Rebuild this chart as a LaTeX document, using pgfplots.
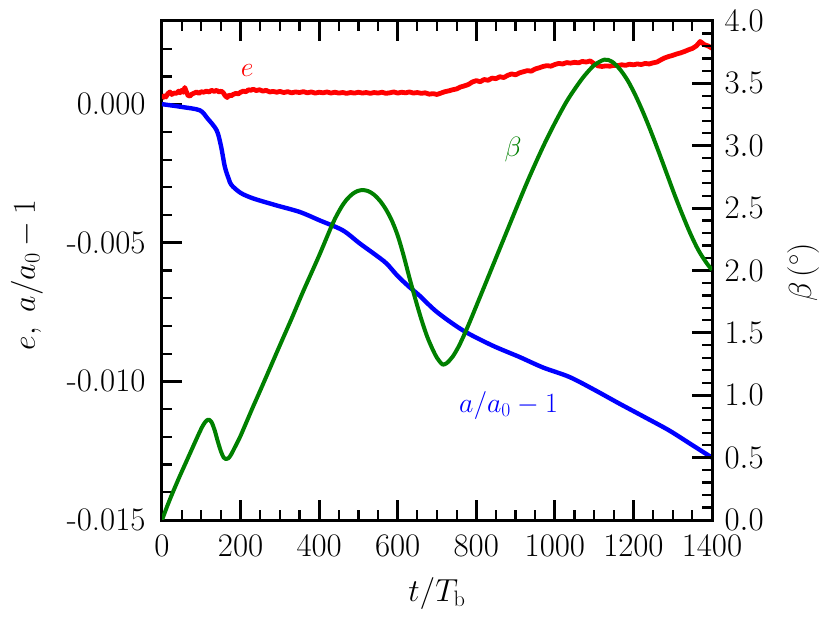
\RequirePackage{fix-cm}
\documentclass[border=0pt]{standalone}
\usepackage{pgfplots}
\pgfplotsset{compat=1.18}
\definecolor{mgreen}{RGB}{0,128,0}
\definecolor{mred}{RGB}{255,0,0}
\definecolor{mblue}{RGB}{0,0,255}

\pgfplotstableread{
t e
0 0.00020
5 0.00030
10 0.00026
15 0.00038
20 0.00044
25 0.00035
30 0.00040
37 0.00039
42 0.00047
46 0.00041
50 0.00050
54 0.00043
58 0.00060
62 0.00045
66 0.00032
71 0.00029
76 0.00036
82 0.00040
88 0.00044
94 0.00039
100 0.00045
106 0.00043
113 0.00047
120 0.00044
126 0.00050
133 0.00046
139 0.00050
145 0.00044
151 0.00047
156 0.00041
161 0.00030
166 0.00024
171 0.00033
176 0.00030
181 0.00035
188 0.00039
194 0.00037
200 0.00043
207 0.00047
214 0.00045
220 0.00052
226 0.00050
232 0.00054
240 0.00049
248 0.00052
257 0.00047
265 0.00050
274 0.00044
283 0.00046
292 0.00043
300 0.00046
310 0.00042
320 0.00045
330 0.00041
340 0.00044
350 0.00042
360 0.00045
370 0.00041
380 0.00044
390 0.00040
400 0.00043
410 0.00041
420 0.00044
430 0.00040
440 0.00043
450 0.00040
460 0.00042
470 0.00039
480 0.00042
490 0.00040
500 0.00043
510 0.00040
520 0.00042
530 0.00039
540 0.00042
550 0.00040
560 0.00043
570 0.00039
580 0.00041
590 0.00044
600 0.00040
610 0.00043
620 0.00041
630 0.00044
640 0.00040
650 0.00042
660 0.00039
670 0.00041
680 0.00036
690 0.00038
700 0.00035
710 0.00040
720 0.00045
730 0.00048
740 0.00052
750 0.00055
760 0.00062
770 0.00066
780 0.00071
790 0.00080
800 0.00085
810 0.00081
820 0.00089
830 0.00086
840 0.00094
850 0.00092
860 0.00099
870 0.00096
880 0.00104
890 0.00109
900 0.00106
910 0.00113
920 0.00117
930 0.00121
940 0.00119
950 0.00127
960 0.00131
970 0.00136
980 0.00139
990 0.00137
1000 0.00143
1010 0.00147
1020 0.00145
1030 0.00150
1040 0.00148
1050 0.00151
1060 0.00149
1070 0.00154
1080 0.00152
1090 0.00156
1100 0.00146
1110 0.00138
1120 0.00136
1130 0.00138
1140 0.00137
1150 0.00140
1160 0.00139
1170 0.00142
1180 0.00140
1190 0.00144
1200 0.00142
1210 0.00145
1220 0.00143
1230 0.00147
1240 0.00145
1250 0.00149
1260 0.00152
1270 0.00160
1280 0.00167
1290 0.00172
1300 0.00176
1310 0.00181
1320 0.00185
1330 0.00190
1340 0.00196
1350 0.00201
1360 0.00210
1365 0.00218
1370 0.00226
1375 0.00221
1380 0.00215
1390 0.00210
1400 0.00202
}\edata

\pgfplotstableread{
t a
0 0
50 -0.00010
96 -0.00022
115 -0.00050
139 -0.00094
150 -0.00150
160 -0.00226
170 -0.00270
177 -0.00292
200 -0.00320
232 -0.00340
291 -0.00365
351 -0.00389
401 -0.00419
460 -0.00455
503 -0.00502
540 -0.00540
571 -0.00574
600 -0.00620
630 -0.00660
655 -0.00690
700 -0.00750
766 -0.00816
840 -0.00870
910 -0.00912
970 -0.00950
1037 -0.00984
1100 -0.01030
1164 -0.01080
1230 -0.01130
1291 -0.01177
1350 -0.01230
1400 -0.01275
}\adata

\pgfplotstableread{
t b
0 0.00
15 0.125
30 0.24
45 0.35
60 0.455
75 0.56
90 0.665
102 0.745
110 0.785
118 0.805
126 0.785
134 0.72
142 0.63
150 0.55
157 0.50
163 0.488
169 0.495
176 0.525
185 0.58
200 0.675
230 0.895
258 1.095
300 1.40
330 1.615
359 1.83
400 2.12
435 2.38
455 2.50
470 2.568
485 2.614
498 2.637
511 2.645
525 2.636
540 2.607
555 2.558
570 2.49
585 2.40
600 2.28
615 2.12
630 1.94
645 1.77
660 1.61
675 1.47
690 1.36
700 1.30
710 1.258
715 1.245
725 1.258
740 1.31
755 1.39
770 1.49
785 1.60
800 1.715
825 1.907
850 2.10
876 2.30
900 2.485
927 2.69
950 2.855
975 3.025
1003 3.20
1030 3.355
1054 3.47
1075 3.56
1100 3.645
1126 3.69
1145 3.675
1165 3.615
1185 3.525
1205 3.405
1225 3.265
1245 3.11
1265 2.945
1285 2.775
1305 2.605
1325 2.445
1345 2.295
1365 2.165
1385 2.065
1400 2.005
}\bdata

\pgfplotsset{
  common/.style={
    at={(0,0)}, anchor=south west,
    scale only axis, width=550bp, height=499bp,
    xmin=0, xmax=1400,
    axis line style={line width=3bp, black},
    major tick length=20bp, minor tick length=10bp,
    major tick style={line width=2.8bp, black},
    minor tick style={line width=2.2bp, black},
    tick label style={font=\fontsize{33}{40}\selectfont},
    /pgf/number format/1000 sep={},
  }
}

\begin{document}
\begin{tikzpicture}
\begin{axis}[common,
  ymin=-0.015, ymax=0.003,
  xtick={0,200,...,1400}, minor x tick num=3,
  xtick pos=both, xticklabel pos=left,
  ytick={-0.015,-0.01,-0.005,0},
  yticklabels={-0.015,-0.010,-0.005,0.000},
  minor ytick={-0.014,-0.013,-0.012,-0.011,-0.009,-0.008,-0.007,-0.006,-0.004,-0.003,-0.002,-0.001,0.001,0.002},
  scaled y ticks=false,
  ytick pos=left,
  yticklabel style={xshift=-13bp},
  xticklabel style={yshift=-12bp},
  xlabel={$t/T_{\rm b}$},
  ylabel={$e,\ a/a_0-1$},
  every axis x label/.style={at={(axis description cs:0.5,-0.1637)}, anchor=base, font=\fontsize{32}{38}\selectfont},
  every axis y label/.style={at={(axis description cs:-0.231,0.491)}, rotate=90, anchor=base, font=\fontsize{32}{38}\selectfont},
]
\addplot[mred, line width=4.8bp, line join=round] table[x=t,y=e] {\edata};
\addplot[mblue, line width=4.4bp, smooth, line join=round] table[x=t,y=a] {\adata};
\node[mred, font=\fontsize{28}{34}\selectfont] at (axis cs:217,0.00123) {$e$};
\node[mblue, font=\fontsize{28}{34}\selectfont] at (axis cs:882,-0.01087) {$a/a_0-1$};
\end{axis}
\begin{axis}[common,
  ymin=0, ymax=4,
  axis x line=none, axis y line*=right,
  ytick={0,0.5,...,4}, minor y tick num=4,
  yticklabel style={/pgf/number format/fixed, /pgf/number format/fixed zerofill, /pgf/number format/precision=1, xshift=9bp},
  ylabel={$\beta\,(^\circ)$},
  every axis y label/.style={at={(axis description cs:1.18,0.496)}, rotate=90, anchor=base, font=\fontsize{32}{38}\selectfont},
]
\addplot[mgreen, line width=4bp, smooth, line join=round] table[x=t,y=b] {\bdata};
\node[mgreen, font=\fontsize{28}{34}\selectfont] at (axis cs:894,2.97) {$\beta$};
\end{axis}
\pgfresetboundingbox
\path[use as bounding box] (-162bp,-103bp) rectangle (668bp,520bp);
\end{tikzpicture}
\end{document}
